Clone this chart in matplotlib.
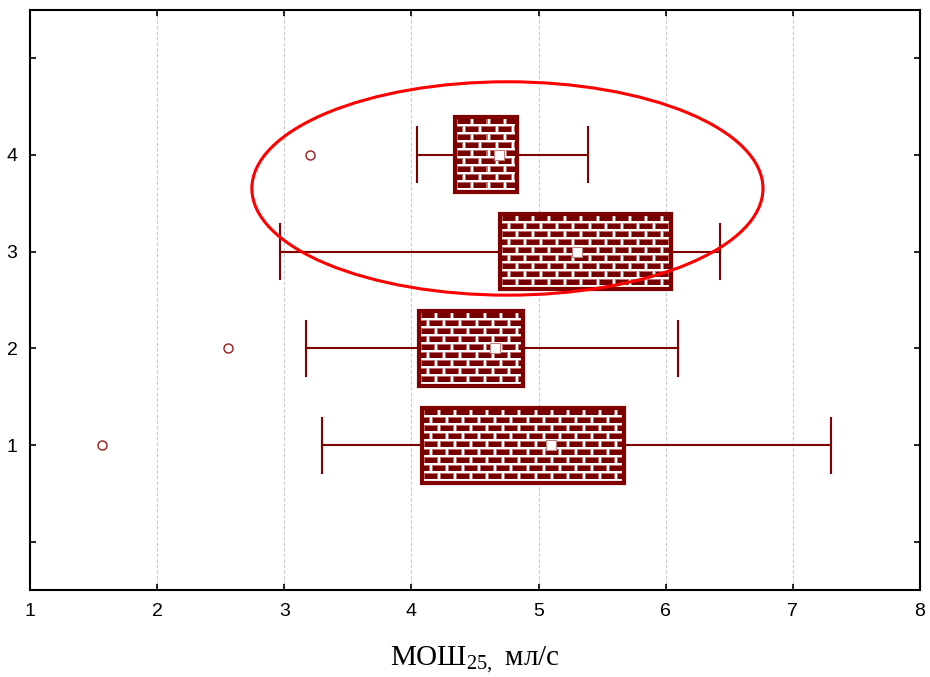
import numpy as np
import matplotlib.pyplot as plt
from matplotlib.patches import Ellipse, Rectangle

plt.rcParams['font.family'] = ['Liberation Sans', 'DejaVu Sans']
plt.rcParams['mathtext.fontset'] = 'custom'
plt.rcParams['mathtext.rm'] = 'Liberation Serif'

# box plot statistics per group
groups = [1, 2, 3, 4]
whisker_lo = [3.30, 3.17, 2.97, 4.04]
q1 = [4.08, 4.06, 4.70, 4.34]
center = [5.10, 4.66, 5.30, 4.69]
q3 = [5.67, 4.88, 6.04, 4.83]
whisker_hi = [7.30, 6.10, 6.43, 5.39]
outliers = [1.57, 2.56, None, 3.20]

xticks = [1, 2, 3, 4, 5, 6, 7, 8]
yticks = [0, 1, 2, 3, 4, 5]
ytick_labels = ['', '1', '2', '3', '4', '']

dark = '#800000'
brick_col = np.array([118, 0, 0]) / 255.0
edge_col = np.array([190, 110, 110]) / 255.0


def brick_texture(w, h, bw=16, bh=8):
    # bricks with a 2 px white joint and a soft pink rim
    img = np.ones((h, w, 3))
    for r in range(h):
        row = r // bh
        rr = r % bh
        off = (bw // 2) if row % 2 else 0
        for c in range(w):
            cc = (c + off) % bw
            if rr < 2 or cc < 2:
                continue
            if rr == 2 or cc == 2 or cc == bw - 1:
                img[r, c] = edge_col
            else:
                img[r, c] = brick_col
    return img


fig = plt.figure(figsize=(9.3, 6.77), dpi=100)
ax = fig.add_axes([30 / 930, 87 / 677, 890 / 930, 580 / 677])
ax.set_xlim(1, 8)
ax.set_ylim(-0.49, 5.49)

ax.set_xticks(xticks)
ax.set_yticks(yticks)
ax.set_yticklabels(ytick_labels)
ax.tick_params(direction='in', length=4, width=1.2, labelsize=14,
               top=True, right=True, pad=9)
for s in ax.spines.values():
    s.set_linewidth(1.5)
ax.xaxis.grid(True, linestyle=(0, (3, 2)), color='#c8c8c8', linewidth=0.8)
ax.set_axisbelow(True)

fig.canvas.draw()
px_per_x = ax.transData.transform((2, 0))[0] - ax.transData.transform((1, 0))[0]
px_per_y = ax.transData.transform((0, 1))[1] - ax.transData.transform((0, 0))[1]

box_h = 0.39
cap_h = 0.28
for i, y in enumerate(groups):
    # whiskers and caps
    ax.plot([whisker_lo[i], q1[i]], [y, y], color=dark, lw=1.5, zorder=2)
    ax.plot([q3[i], whisker_hi[i]], [y, y], color=dark, lw=1.5, zorder=2)
    ax.plot([whisker_lo[i]] * 2, [y - cap_h, y + cap_h], color=dark, lw=1.5, zorder=2)
    ax.plot([whisker_hi[i]] * 2, [y - cap_h, y + cap_h], color=dark, lw=1.5, zorder=2)

    # brick-filled box
    w_px = int(round((q3[i] - q1[i]) * px_per_x))
    h_px = int(round(2 * box_h * px_per_y))
    tex = brick_texture(w_px, h_px)
    ax.imshow(tex, extent=(q1[i], q3[i], y - box_h, y + box_h),
              aspect='auto', interpolation='nearest', zorder=3)
    ax.add_patch(Rectangle((q1[i], y - box_h), q3[i] - q1[i], 2 * box_h,
                           fill=False, edgecolor=dark, lw=3, zorder=4))

    ax.plot(center[i], y, marker='s', ms=7, mfc='white', mec='#c08080',
            mew=0.8, ls='none', zorder=5)
    if outliers[i] is not None:
        ax.plot(outliers[i], y, marker='o', ms=6.5, mfc='none', mec='#9b1b1b',
                mew=1.0, ls='none', zorder=5)

ax.set_xlim(1, 8)
ax.set_ylim(-0.49, 5.49)

ax.add_patch(Ellipse((4.755, 3.65), 4.02, 2.2, fill=False,
                     edgecolor='#ff0000', lw=2.2, zorder=6))

ax.set_xlabel(r'МОШ$_{\mathrm{25,}}\;$мл/с', fontsize=21,
              family=['Liberation Serif'], labelpad=18)

fig.savefig('out.png', dpi=100)
